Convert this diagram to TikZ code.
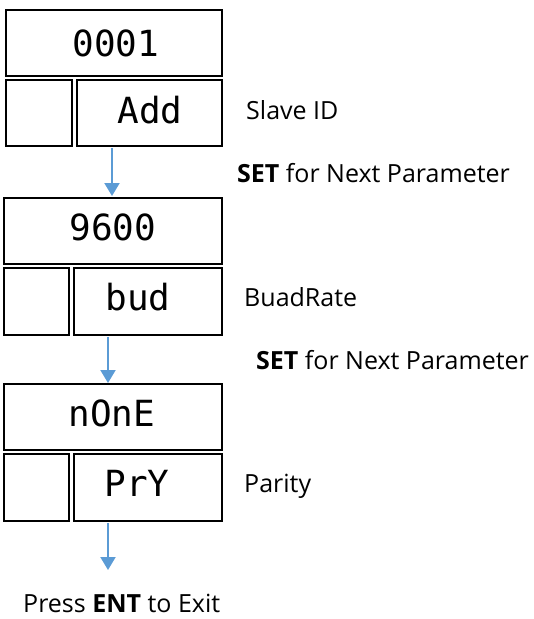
\documentclass[tikz,border=0pt]{standalone}
\usepackage{fontspec}
\setmainfont{Open Sans}
\newfontfamily\segfont{DejaVu Sans Mono}
\usetikzlibrary{arrows.meta}
\definecolor{arrowblue}{HTML}{5B9BD5}
\tikzset{
  dbox/.style={draw=black, line width=2pt},
  seg/.style={font=\segfont\fontsize{36}{36}\selectfont, inner sep=0pt},
  lbl/.style={font=\fontsize{25}{27}\selectfont, anchor=west, inner sep=0pt},
  flow/.style={draw=arrowblue, line width=2pt, -{Triangle[width=15pt,length=13pt]}}
}
\begin{document}
\begin{tikzpicture}[x=1pt,y=-1pt]
\useasboundingbox (0,0) rectangle (534,619);
% block 1
\draw[dbox] (6,10) rectangle (222,76);
\draw[dbox] (6,80) rectangle (72,146);
\draw[dbox] (77,80) rectangle (222,146);
\node[seg] (d1) at (116,43) {0001};
\node[seg] (p1) at (150,110) {Add};
\coordinate (a1s) at (112,148);
\coordinate (a1e) at (112,196);
\draw[flow] (a1s) -- (a1e);
\node[lbl] (l1) at (246,110) {Slave ID};
\node[lbl] (s1) at (237,173) {\textbf{SET} for Next Parameter};
% block 2
\draw[dbox] (4,198) rectangle (222,264);
\draw[dbox] (4,268) rectangle (69,335);
\draw[dbox] (74,268) rectangle (222,335);
\node[seg] (d2) at (113,227) {9600};
\node[seg] (p2) at (138,297) {bud};
\coordinate (a2s) at (108,337);
\coordinate (a2e) at (108,383);
\draw[flow] (a2s) -- (a2e);
\node[lbl] (l2) at (244,297) {BuadRate};
\node[lbl] (s2) at (256,360) {\textbf{SET} for Next Parameter};
% block 3
\draw[dbox] (4,384) rectangle (222,450);
\draw[dbox] (4,454) rectangle (69,521);
\draw[dbox] (74,454) rectangle (222,521);
\node[seg] (d3) at (112,413) {nOnE};
\node[seg] (p3) at (137,483) {PrY};
\coordinate (a3s) at (108,523);
\coordinate (a3e) at (108,570);
\draw[flow] (a3s) -- (a3e);
\node[lbl] (l3) at (244,486) {Parity};
\node[lbl] (ex) at (23,603) {Press \textbf{ENT} to Exit};
\end{tikzpicture}
\end{document}
